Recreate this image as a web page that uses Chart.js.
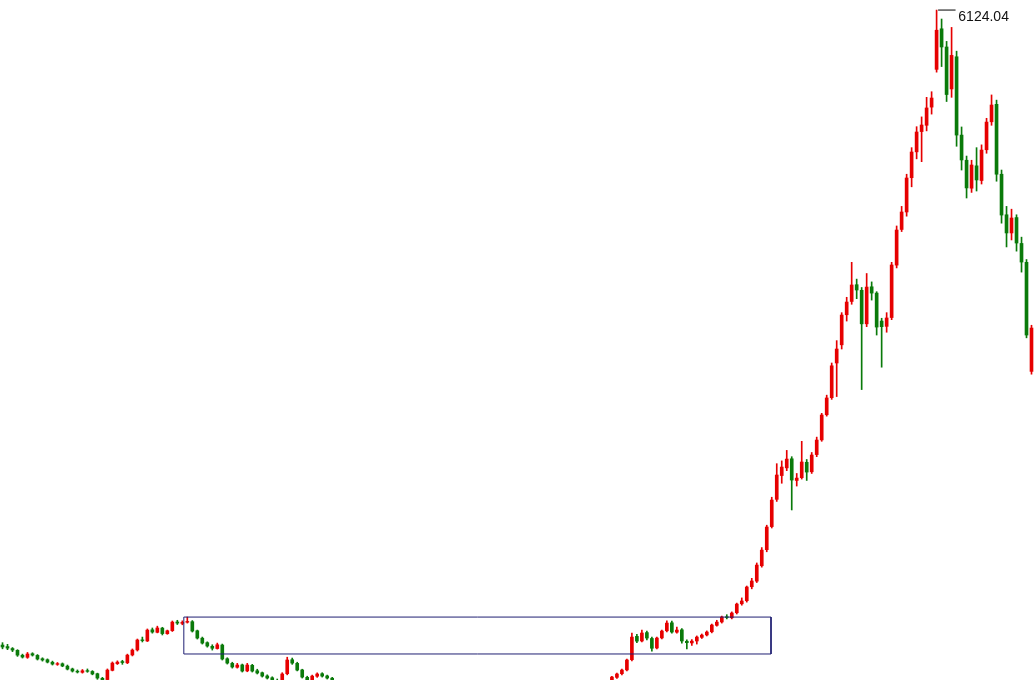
<!DOCTYPE html>
<html>
<head>
<meta charset="utf-8">
<script src="https://cdn.jsdelivr.net/npm/chart.js@4.4.1/dist/chart.umd.min.js"></script>
<style>
  html, body { margin: 0; padding: 0; background: #fff; }
  #wrap { width: 1034px; height: 680px; position: relative; }
</style>
</head>
<body>
<div id="wrap"><canvas id="kChart"></canvas></div>
<script>
// candles, oldest first (index points)
const opens = [
  1583,1572,1558,1545,1510,1495,1521,1509,1485,1478,
  1460,1445,1449,1432,1412,1396,1388,1400,1394,1378,
  1345,1336,1402,1450,1465,1456,1512,1548,1620,1612,
  1692,1674,1704,1664,1686,1748,1738,1746,1750,1685,
  1632,1600,1574,1558,1583,1485,1452,1424,1441,1398,
  1438,1399,1385,1362,1349,1328,1312,1378,1478,1452,
  1405,1352,1331,1360,1378,1362,1346,1326,1310,1295,
  1270,1255,1262,1240,1225,1245,1262,1283,1300,1290,
  1268,1250,1232,1210,1190,1165,1150,1130,1105,1090,
  1070,1045,1020,1008,1040,1080,1060,1030,1015,1040,
  1070,1100,1140,1165,1150,1170,1190,1175,1150,1120,
  1100,1110,1095,1120,1135,1150,1165,1180,1200,1230,
  1260,1285,1306,1352,1378,1405,1478,1645,1612,1672,
  1630,1562,1634,1685,1742,1675,1692,1610,1598,1612,
  1638,1655,1678,1724,1748,1785,1778,1814,1878,1900,
  2000,2040,2150,2265,2430,2625,2795,2850,2915,2760,
  2780,2890,2822,2945,3050,3230,3352,3600,3730,3945,
  4040,4160,4120,3880,4145,4100,3900,3862,3925,4300,
  4555,4680,4925,5110,5255,5300,5430,5700,5990,5860,
  5560,5790,5230,5050,4850,5010,4905,5125,5325,5450,
  4950,4660,4530,4640,4455,4320,3540
];
const highs = [
  1600,1588,1565,1550,1518,1530,1528,1515,1492,1484,
  1468,1458,1455,1440,1418,1405,1408,1412,1400,1382,
  1352,1412,1462,1470,1474,1518,1555,1626,1640,1698,
  1705,1718,1710,1690,1755,1760,1756,1783,1758,1690,
  1640,1606,1585,1597,1590,1492,1460,1452,1447,1452,
  1445,1410,1390,1370,1356,1340,1385,1496,1490,1460,
  1410,1360,1368,1384,1385,1368,1352,1329,1318,1300,
  1276,1272,1268,1246,1254,1270,1292,1312,1310,1296,
  1274,1256,1240,1218,1196,1172,1156,1136,1112,1096,
  1076,1052,1026,1048,1090,1088,1066,1036,1048,1078,
  1108,1148,1174,1172,1178,1198,1196,1180,1156,1126,
  1118,1116,1128,1142,1158,1172,1188,1208,1238,1268,
  1292,1312,1360,1383,1411,1483,1669,1660,1690,1683,
  1640,1640,1690,1757,1755,1712,1700,1620,1622,1648,
  1662,1684,1733,1760,1790,1800,1820,1883,1920,2005,
  2060,2170,2280,2440,2640,2880,2900,2975,2930,2810,
  3040,2910,2960,3070,3240,3370,3600,3760,3960,4070,
  4320,4200,4140,4240,4180,4110,3920,3960,4320,4580,
  4720,4950,5140,5290,5360,5500,5540,6124.04,6060,5900,
  6000,5830,5288,5080,5050,5140,5160,5350,5517,5480,
  4980,4720,4700,4660,4500,4340,3870
];
const lows = [
  1556,1550,1536,1502,1490,1488,1504,1476,1468,1455,
  1440,1438,1428,1405,1390,1383,1382,1388,1370,1338,
  1318,1330,1398,1444,1445,1450,1505,1540,1605,1608,
  1668,1670,1655,1660,1680,1730,1728,1740,1676,1626,
  1590,1568,1547,1554,1476,1447,1418,1418,1390,1392,
  1390,1376,1354,1340,1320,1295,1305,1370,1445,1398,
  1347,1322,1325,1352,1354,1340,1320,1300,1285,1262,
  1246,1248,1232,1216,1220,1238,1255,1276,1282,1260,
  1242,1224,1202,1182,1156,1142,1122,1096,1082,1062,
  1036,1012,998,1002,1034,1052,1022,1005,1010,1034,
  1064,1094,1132,1142,1144,1162,1168,1142,1112,1092,
  1094,1088,1090,1114,1128,1144,1158,1174,1194,1224,
  1254,1278,1298,1345,1370,1398,1470,1600,1605,1620,
  1540,1555,1626,1676,1668,1668,1597,1555,1580,1590,
  1630,1648,1670,1718,1740,1770,1770,1805,1868,1890,
  1985,2030,2140,2250,2420,2610,2740,2830,2549,2720,
  2770,2760,2810,2930,3040,3220,3340,3360,3700,3900,
  4020,4060,3410,3860,4050,3800,3570,3820,3910,4280,
  4540,4650,4860,5060,5040,5260,5380,5680,5720,5470,
  5500,5150,4980,4780,4820,4830,4880,5100,5300,4900,
  4600,4430,4480,4400,4250,3780,3520
];
const closes = [
  1569,1561,1547,1511,1497,1519,1511,1483,1476,1461,
  1447,1450,1433,1411,1397,1390,1399,1395,1376,1347,
  1335,1404,1454,1461,1458,1511,1547,1619,1615,1690,
  1676,1705,1665,1685,1747,1740,1745,1752,1683,1633,
  1597,1576,1560,1585,1483,1454,1426,1440,1397,1440,
  1397,1383,1361,1347,1330,1311,1376,1476,1454,1404,
  1354,1330,1361,1376,1361,1347,1326,1310,1295,1270,
  1255,1262,1240,1225,1245,1262,1283,1300,1290,1268,
  1250,1232,1210,1190,1165,1150,1130,1105,1090,1070,
  1045,1020,1008,1040,1080,1060,1030,1015,1040,1070,
  1100,1140,1165,1150,1170,1190,1175,1150,1120,1100,
  1110,1095,1120,1135,1150,1165,1180,1200,1230,1260,
  1285,1305,1354,1376,1404,1476,1640,1611,1669,1633,
  1560,1633,1683,1740,1676,1690,1612,1600,1611,1640,
  1654,1676,1726,1747,1783,1780,1812,1876,1898,1998,
  2041,2155,2262,2427,2620,2799,2856,2913,2763,2777,
  2892,2820,2942,3049,3228,3350,3580,3700,3943,4036,
  4158,4122,3880,4143,4100,3857,3860,3922,4301,4551,
  4680,4923,5109,5252,5302,5424,5495,5980,5860,5520,
  5800,5230,5052,4852,5016,4909,5123,5323,5445,4950,
  4658,4530,4637,4458,4322,3800,3850
];

// consolidation box (candle index / price)
const boxX = [36.3, 153.85];
const boxY = [1519, 1783];

const yMin = 1333;
const yMax = 6196;

const upColor = '#e60000';
const downColor = '#0a7a0a';

const peakValue = Math.max(...highs);
const peakIndex = highs.indexOf(peakValue);

const candleColor = (ctx) =>
  closes[ctx.dataIndex] >= opens[ctx.dataIndex] ? upColor : downColor;

const wickData = highs.map((h, i) => ({ x: i, y: [lows[i], h] }));
const bodyData = opens.map((o, i) => ({ x: i, y: [o, closes[i]] }));

const boxData = [
  { x: boxX[0], y: boxY[1] },
  { x: boxX[1], y: boxY[1] },
  { x: boxX[1], y: boxY[0] },
  { x: boxX[0], y: boxY[0] },
  { x: boxX[0], y: boxY[1] }
];
const peakMark = [
  { x: peakIndex + 0.3, y: peakValue },
  { x: peakIndex + 3.8, y: peakValue }
];

const peakLabel = {
  id: 'peakLabel',
  afterDatasetsDraw(chart) {
    const { ctx, scales: { x, y } } = chart;
    ctx.save();
    ctx.font = '14px "Liberation Sans", Arial, sans-serif';
    ctx.fillStyle = '#111';
    ctx.textBaseline = 'alphabetic';
    ctx.fillText(peakValue.toFixed(2), x.getPixelForValue(peakIndex + 4.35), y.getPixelForValue(peakValue) + 11);
    ctx.restore();
  }
};

const kChart = new Chart(document.getElementById('kChart').getContext('2d'), {
  type: 'bar',
  data: {
    datasets: [
      {
        type: 'line',
        data: boxData,
        borderColor: '#1f1f72',
        borderWidth: 1,
        pointRadius: 0,
        tension: 0,
        order: 0
      },
      {
        type: 'line',
        data: peakMark,
        borderColor: '#000',
        borderWidth: 1,
        pointRadius: 0,
        order: 0
      },
      {
        data: wickData,
        backgroundColor: candleColor,
        barThickness: 1,
        grouped: false,
        order: 2
      },
      {
        data: bodyData,
        backgroundColor: candleColor,
        barThickness: 3,
        grouped: false,
        order: 1
      }
    ]
  },
  options: {
    responsive: true,
    maintainAspectRatio: false,
    animation: false,
    layout: { padding: 0 },
    plugins: {
      legend: { display: false },
      tooltip: { enabled: false }
    },
    scales: {
      x: {
        type: 'linear',
        offset: false,
        min: -0.5,
        max: opens.length - 0.5,
        display: false
      },
      y: { min: yMin, max: yMax, display: false }
    }
  },
  plugins: [peakLabel]
});
</script>
</body>
</html>
